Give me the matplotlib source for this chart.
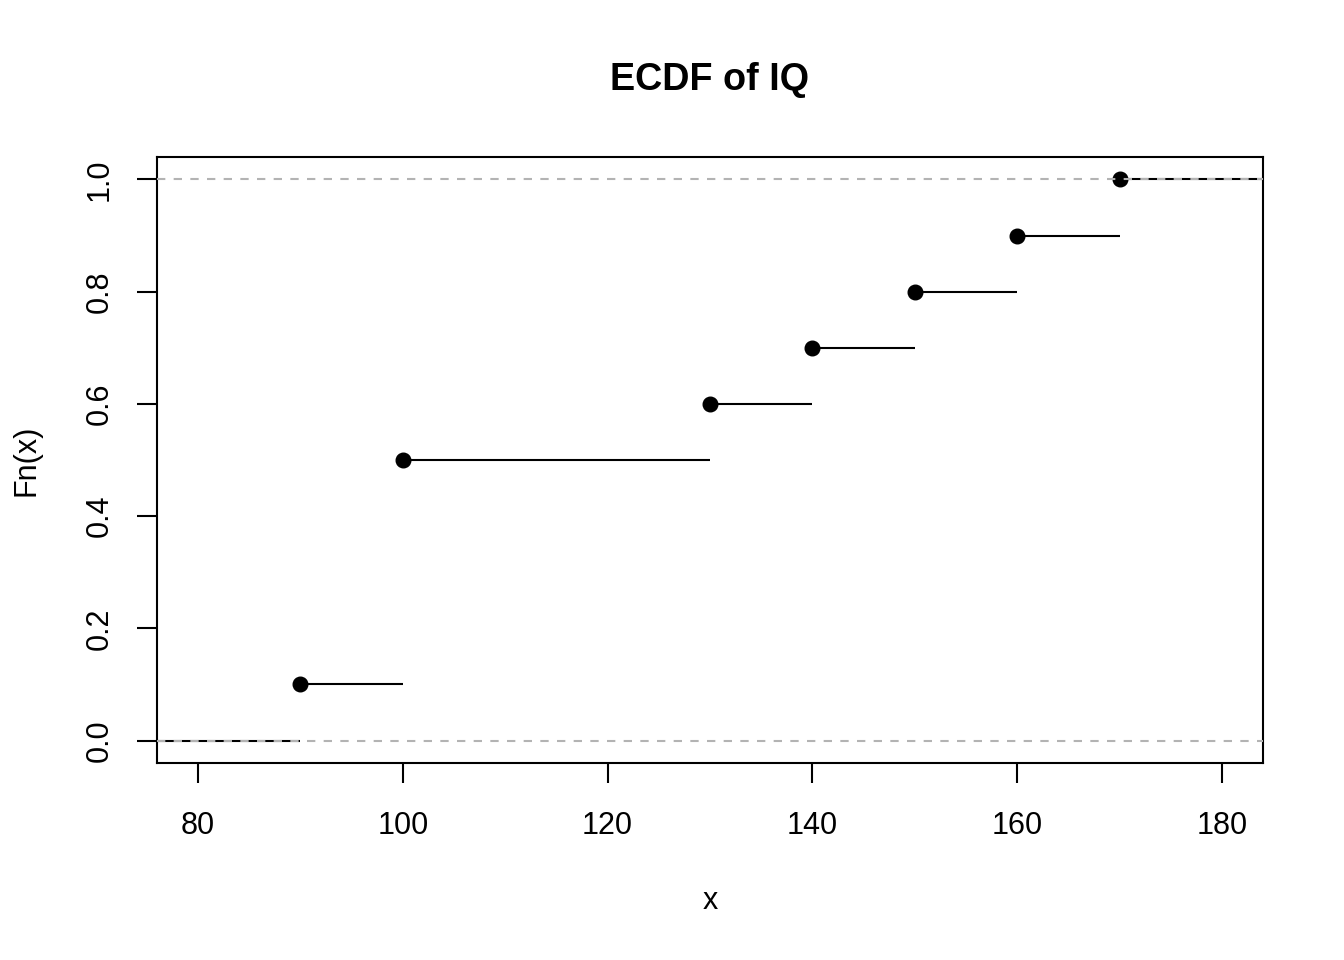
import numpy as np
import matplotlib
matplotlib.use('Agg')
import matplotlib.pyplot as plt

# IQ sample (ecdf jumps), read from the steps
iq = [90, 100, 100, 100, 100, 130, 140, 150, 160, 170]
x_ticks = [80, 100, 120, 140, 160, 180]
y_ticks = [0.0, 0.2, 0.4, 0.6, 0.8, 1.0]

plt.rcParams['font.family'] = ['Liberation Sans', 'DejaVu Sans']

W, H = 1344, 960
fig = plt.figure(figsize=(W / 100, H / 100), dpi=100)
ax = fig.add_axes([157 / W, 1 - 763 / H, (1263 - 157) / W, (763 - 157) / H])

knots = np.unique(iq)
fn = np.array([np.mean(np.array(iq) <= k) for k in knots])

xlo, xhi = 76, 184
lw = 1.5
# steps, no verticals
lefts = np.concatenate([[xlo], knots])
rights = np.concatenate([knots, [xhi]])
levels = np.concatenate([[0.0], fn])
ax.hlines(levels, lefts, rights, colors='black', linewidth=lw, zorder=2)
ax.plot(knots, fn, 'o', color='black', markersize=10.5, zorder=3)
for yv in (0, 1):
    ax.axhline(yv, color='#b3b3b3', linewidth=lw, dashes=(4, 4), zorder=4)

ax.set_xlim(xlo, xhi)
ax.set_ylim(-0.04, 1.04)
ax.set_xticks(x_ticks)
ax.set_yticks(y_ticks)
ax.set_xticklabels([str(v) for v in x_ticks], fontsize=22)
ax.set_yticklabels(['%.1f' % v for v in y_ticks], fontsize=22, rotation=90, va='center')
ax.tick_params(length=14.4, width=lw)
ax.tick_params(axis='x', pad=20)
ax.tick_params(axis='y', pad=16)
for s in ax.spines.values():
    s.set_linewidth(lw)

fig.text(710 / W, 1 - 80 / H, 'ECDF of IQ', fontsize=27.2, fontweight='bold', ha='center', va='center')
fig.text(710 / W, 1 - 901 / H, 'x', fontsize=22, ha='center', va='center')
fig.text(26 / W, 1 - 460 / H, 'Fn(x)', fontsize=22, rotation=90, ha='center', va='center')

fig.savefig('out.png', dpi=100)
